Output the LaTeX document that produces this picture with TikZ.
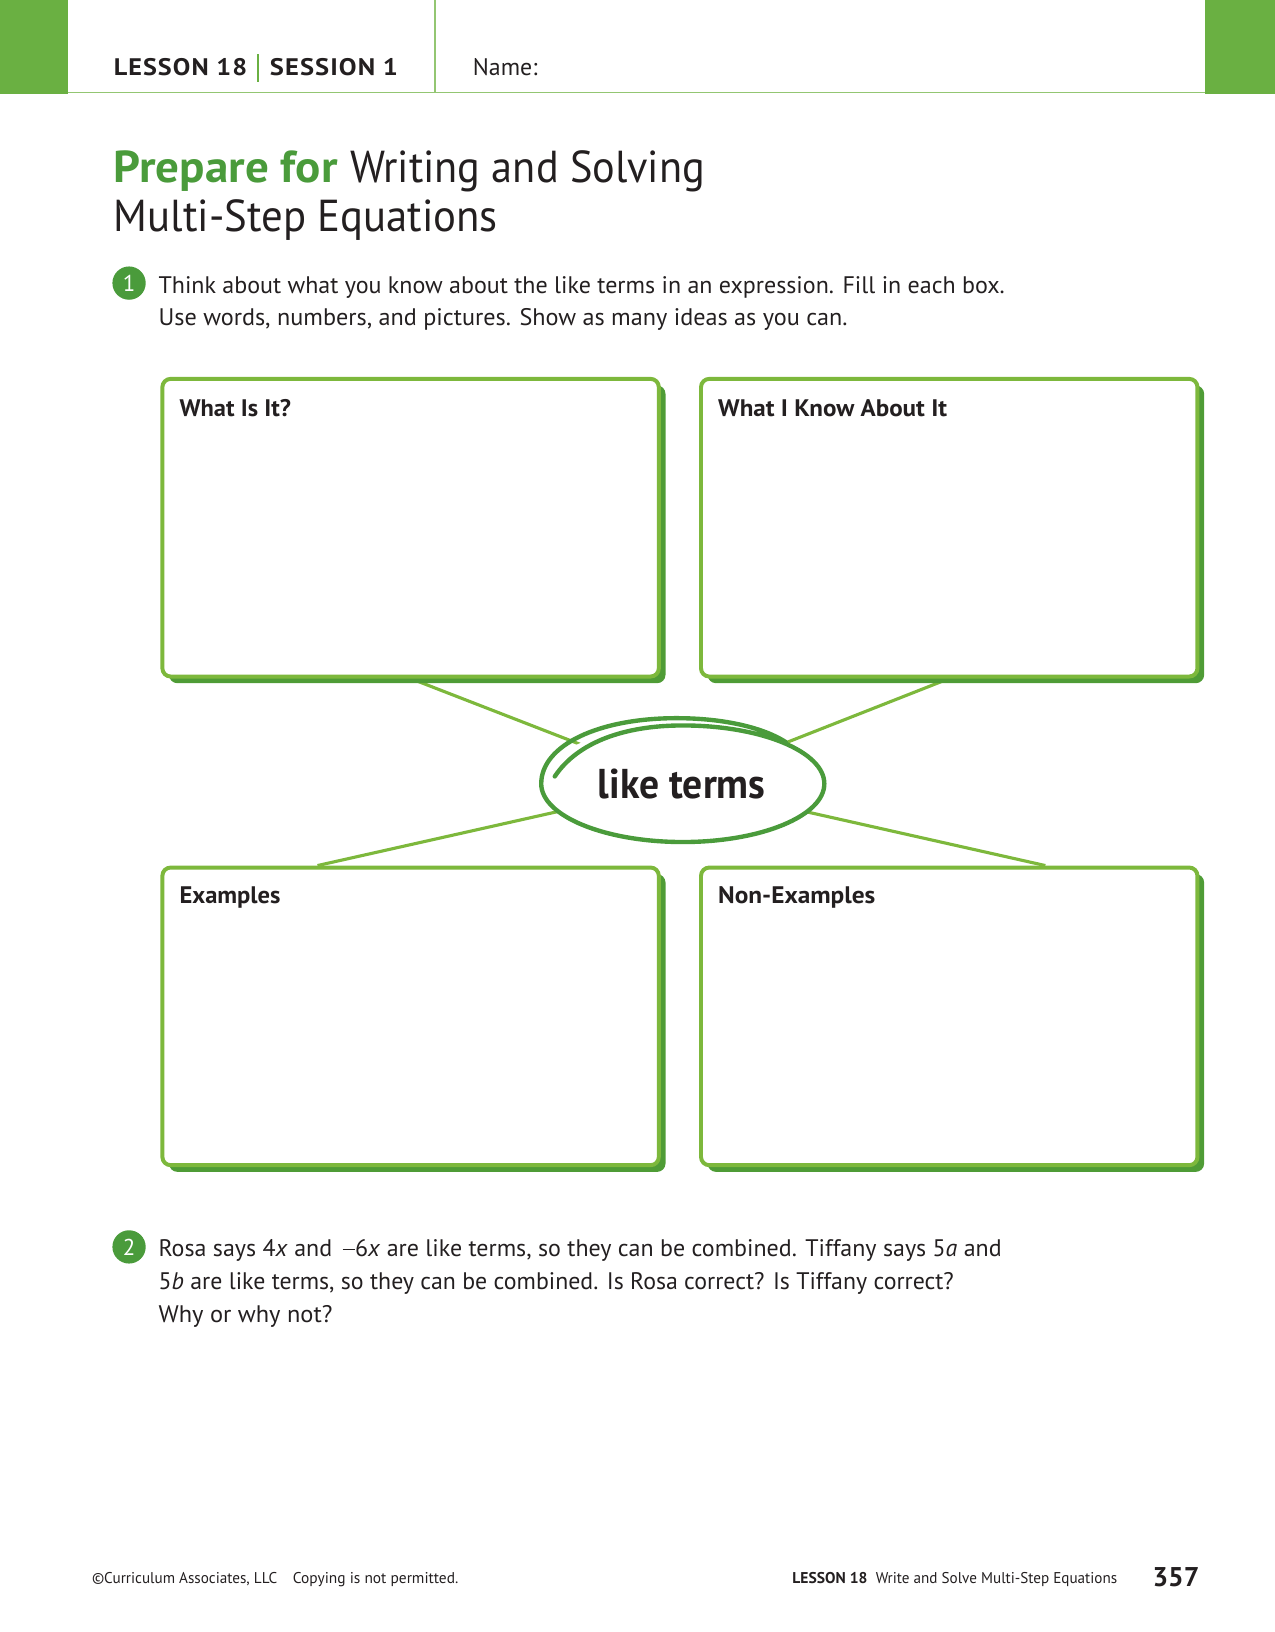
\documentclass[tikz,border=0pt]{standalone}
\usepackage{fontspec}
\setmainfont{PT Sans}
\usetikzlibrary{calc,shapes.geometric,shadows}
\definecolor{bargreen}{HTML}{6AB042}
\definecolor{hdrline}{HTML}{93C672}
\definecolor{titlegreen}{HTML}{4A9B3B}
\definecolor{boxgreen}{HTML}{7DB83C}
\definecolor{shadowgreen}{HTML}{4F9C36}
\definecolor{ink}{HTML}{231F20}
\newcommand{\fitw}[2]{\resizebox{#1}{\height}{#2}}
\newcommand{\mminus}{\rule[0.25em]{0.52em}{0.06em}}
\pgfdeclarelayer{bg}
\pgfsetlayers{bg,main}
\begin{document}
\begin{tikzpicture}[x=0.5pt,y=-0.5pt,
  txt/.style={anchor=base west, inner sep=0pt, text=ink},
  body/.style={txt, font=\fontsize{11.5}{14}\selectfont},
  lbl/.style={txt, font=\fontsize{11.5}{14}\selectfont\bfseries},
  foot/.style={txt, font=\fontsize{7.5}{9}\selectfont},
  numc/.style={circle, fill=titlegreen, text=white, inner sep=0pt, minimum size=16pt, font=\fontsize{11}{12}\selectfont},
  infobox/.style={draw=boxgreen, line width=1.9pt, rounded corners=4pt, fill=white, inner sep=0pt,
     minimum width=238.5pt, minimum height=143pt,
     general shadow={fill=shadowgreen, shadow xshift=3.2pt, shadow yshift=-3.2pt}},
  conn/.style={draw=boxgreen, line width=1.5pt}]
\useasboundingbox (0,0) rectangle (1225,1568);
% header
\fill[bargreen] (0,0) rectangle (65,90);
\fill[bargreen] (1158,0) rectangle (1225,90);
\draw[hdrline, line width=0.8pt] (65,89) -- (1158,89);
\draw[hdrline, line width=0.8pt] (418,0) -- (418,89);
\node[txt, font=\fontsize{11.5}{14}\selectfont\bfseries\addfontfeatures{LetterSpace=4}] (les) at (109,73) {\fitw{64pt}{LESSON 18}};
\draw[bargreen, line width=0.8pt] (248,52) -- (248,79);
\node[txt, font=\fontsize{11.5}{14}\selectfont\bfseries\addfontfeatures{LetterSpace=4}] (ses) at (259,73) {\fitw{61.5pt}{SESSION 1}};
\node[txt, font=\fontsize{11.5}{14}\selectfont] (name) at (454,73) {\fitw{31pt}{Name:}};
% title
\node[txt, text=titlegreen, font=\fontsize{21.5}{26}\selectfont\bfseries] (prep) at (109,175) {\fitw{107.5pt}{Prepare for}};
\node[txt, font=\fontsize{21.5}{26}\selectfont] (t1) at (336,175) {\fitw{170.5pt}{Writing and Solving}};
\node[txt, font=\fontsize{21.5}{26}\selectfont] (t2) at (109,222) {\fitw{184.5pt}{Multi-Step Equations}};
% question 1
\node[numc] (n1) at (124,272) {1};
\node[body] (q1a) at (152,282) {\fitw{406.5pt}{Think about what you know about the like terms in an expression. Fill in each box.}};
\node[body] (q1b) at (152,313) {\fitw{331pt}{Use words, numbers, and pictures. Show as many ideas as you can.}};
% boxes
\node[infobox] (wi) at (394.5,507) {};
\node[infobox] (wk) at (912,507) {};
\node[infobox] (ex) at (394.5,976.5) {};
\node[infobox] (ne) at (912,976.5) {};
\node[lbl] (lwi) at ($(wi.north west)+(18,38)$) {\fitw{53.5pt}{What Is It?}};
\node[lbl] (lwk) at ($(wk.north west)+(18,38)$) {\fitw{110pt}{What I Know About It}};
\node[lbl] (lex) at ($(ex.north west)+(18,36)$) {\fitw{48.5pt}{Examples}};
\node[lbl] (lne) at ($(ne.north west)+(18,36)$) {\fitw{75.5pt}{Non-Examples}};
% center ellipse
\node[ellipse, fill=white, inner sep=0pt, minimum width=136pt, minimum height=56pt, text=ink,
      font=\fontsize{20}{24}\selectfont\bfseries] (lt) at (655,753) {\fitw{80.5pt}{like terms}};
\draw[titlegreen, line width=2.1pt, line cap=round, line join=round]
  (533,746) .. controls (555,713) and (600,697) .. (656,697)
  .. controls (731,697) and (792,722) .. (792,753)
  .. controls (792,784) and (731,809) .. (656,809)
  .. controls (581,809) and (520,784) .. (520,753)
  .. controls (520,716) and (575,690) .. (650,690)
  .. controls (698,690) and (735,700) .. (755,713);
\begin{pgfonlayer}{bg}
\draw[conn] (wi.south) -- (lt.center);
\draw[conn] (wk.south) -- (lt.center);
\draw[conn] ($(ex.north west)!0.314!(ex.north east)$) -- (lt.center);
\draw[conn] ($(ne.north west)!0.692!(ne.north east)$) -- (lt.center);
\end{pgfonlayer}
% question 2
\node[numc] (n2) at (124,1198) {2};
\node[body] (q2a) at (152,1207) {\fitw{405pt}{Rosa says 4\textit{x} and \,\mminus6\textit{x} are like terms, so they can be combined. Tiffany says 5\textit{a} and}};
\node[body] (q2b) at (152,1239) {\fitw{382pt}{5\textit{b} are like terms, so they can be combined. Is Rosa correct? Is Tiffany correct?}};
\node[body] (q2c) at (152,1271) {\fitw{83.5pt}{Why or why not?}};
% footer
\node[foot] (f1) at (88,1521) {\fitw{89pt}{©Curriculum Associates, LLC}};
\node[foot] (f2) at (281,1521) {\fitw{79.5pt}{Copying is not permitted.}};
\node[foot, font=\fontsize{7.5}{9}\selectfont\bfseries] (f3) at (761,1521) {\fitw{36pt}{LESSON 18}};
\node[foot] (f4) at (841,1521) {\fitw{116pt}{Write and Solve Multi-Step Equations}};
\node[txt, font=\fontsize{13}{15}\selectfont\bfseries] (pg) at (1107,1524) {\fitw{22.5pt}{357}};
\end{tikzpicture}
\end{document}
